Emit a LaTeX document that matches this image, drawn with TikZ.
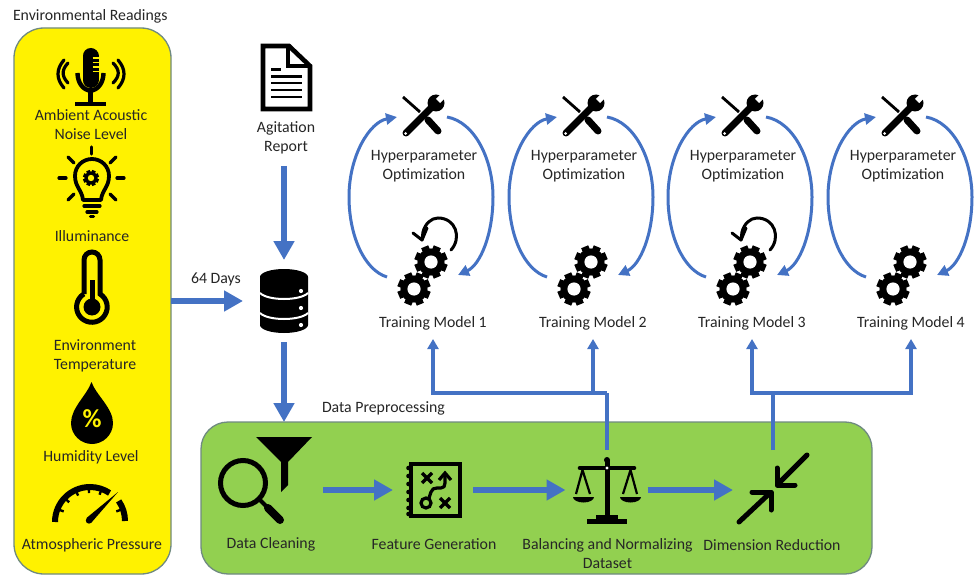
\documentclass[tikz,border=0pt]{standalone}
\usepackage{fontspec}
\setmainfont{Carlito}
\usetikzlibrary{arrows.meta}
\definecolor{flowblue}{HTML}{4472C4}
\definecolor{boxedge}{HTML}{6F8A80}
\definecolor{prepgreen}{HTML}{92D050}
\definecolor{inktext}{HTML}{262626}
\tikzset{
  lbl/.style={inner sep=0pt,outer sep=0pt,align=center,text=inktext,font=\fontsize{15.8}{19}\selectfont},
  iconbox/.style={inner sep=0pt,outer sep=0pt,minimum width=#1,minimum height=80pt},
  panel/.style={draw=boxedge,line width=1.3pt,rounded corners=#1,inner sep=0pt,outer sep=0pt},
  flow/.style={draw=flowblue,line width=6.4pt,-{Triangle[length=19pt,width=20pt]}},
  thinflow/.style={draw=flowblue,line width=3.2pt,-{Triangle[length=10pt,width=11pt]}},
  thinline/.style={draw=flowblue,line width=3.2pt},
  loopflow/.style={draw=flowblue,line width=3pt,-{Triangle[length=11pt,width=11pt]}},
  ink/.style={draw=black,line width=#1},
  ink/.default=3pt,
  rnd/.style={line cap=round}
}
\newcommand{\GearAt}[4]{%
  \foreach \a in {0,45,...,315}{\draw[line width=#3*0.46pt,black] (#1,#2) ++(\a+22.5:#3*0.6) -- ++(\a+22.5:#3*0.4);}
  \fill[black] (#1,#2) circle[radius=#3*0.82];
  \fill[#4] (#1,#2) circle[radius=#3*0.4];
}
\newcommand{\ToolIcon}{%
  \draw[ink=2.8pt] (403,97) -- (420,112);
  \draw[ink=7pt,rnd] (428,120) -- (438,131);
  \draw[ink=7pt,rnd] (406,133) -- (431,108);
  \fill[black] (436,103) circle[radius=8.5];
  \draw[white,line width=6pt] (438,101) -- (448,91);
  \fill[white] (405.5,133.5) circle[radius=1.5];
}
\newcommand{\SpinIcon}{%
  \draw[ink=3pt,rnd] (451,250) .. controls (462,238) and (456,218) .. (438,218) .. controls (431,218) and (425,224) .. (423,232) -- (422,240);
  \draw[ink=3pt,rnd,line join=round] (413,233) -- (422,240) -- (427,228);
}
\begin{document}
\begin{tikzpicture}[x=1pt,y=-1pt]
\useasboundingbox (0,0) rectangle (975,575);
\fill[white] (0,0) rectangle (975,575);

% panels
\node[panel=30pt,fill=yellow,minimum width=157pt,minimum height=546pt] (env) at (92.5,301) {};
\node[panel=27pt,fill=prepgreen,minimum width=671pt,minimum height=152pt] (prep) at (536.5,498) {};

% icon placeholders
\node[iconbox=82pt,minimum height=82pt] (db) at (284,301) {};
\node[iconbox=130pt] (clean) at (258,490) {};
\node[iconbox=80pt] (feat) at (433,490) {};
\node[iconbox=82pt] (scales) at (606.5,490) {};
\node[iconbox=80pt] (dimr) at (773,490) {};

% labels
\node[lbl,anchor=west] (envt) at (13,16) {Environmental Readings};
\node[lbl] (noise) at (91,125) {Ambient Acoustic\\Noise Level};
\node[lbl] (illum) at (92,236) {Illuminance};
\node[lbl] (temp) at (95,356) {Environment\\Temperature};
\node[lbl] (humid) at (91,457) {Humidity Level};
\node[lbl] (press) at (92,545) {Atmospheric Pressure};
\node[lbl] (days) at (216,279) {64 Days};
\node[lbl] (agit) at (286,138) {Agitation\\Report};
\node[lbl,anchor=west] (preptxt) at (322,408) {Data Preprocessing};
\node[lbl] (cleant) at (271,544) {Data Cleaning};
\node[lbl] (featt) at (434,544) {Feature Generation};
\node[lbl] (balt) at (607.5,554) {Balancing and Normalizing\\Dataset};
\node[lbl] (dimt) at (772,545) {Dimension Reduction};

% microphone
\draw[ink=16pt,rnd] (90.5,56) -- (90.5,80);
\foreach \yy in {58,62.5,67,71.5}{\draw[yellow,line width=1.4pt] (92.5,\yy) -- (99,\yy);}
\draw[ink=4.4pt] (77.5,73) arc[start angle=180,end angle=0,x radius=13,y radius=17.5];
\draw[ink=4.4pt] (90.5,90) -- (90.5,103);
\draw[ink=4.4pt] (75,104) -- (106,104);
\draw[ink=3.2pt,rnd] (68,63) .. controls (61.5,70) and (61.5,76) .. (68,83);
\draw[ink=3.2pt,rnd] (64,60) .. controls (56,69) and (56,79) .. (64,88);
\draw[ink=3.2pt,rnd] (113,63) .. controls (120,70) and (120,76) .. (113,83);
\draw[ink=3.2pt,rnd] (118,60) .. controls (126,69) and (126,79) .. (118,88);

% bulb
\draw[ink=3.8pt,line join=round] (83,200) .. controls (82,190) and (75,187) .. (75,176) .. controls (75,166) and (83,159) .. (92,159) .. controls (101,159) and (109,166) .. (109,176) .. controls (109,187) and (102,190) .. (101,200) -- cycle;
\GearAt{91}{178}{8}{yellow}
\draw[ink=3.2pt,rnd] (84,206) -- (100,206);
\draw[ink=3.2pt,rnd] (87,212) -- (97,212);
\draw[ink=3.2pt,rnd] (90.5,216.5) -- (93.5,216.5);
\draw[ink=3.2pt,rnd] (91.5,147) -- (91.5,154);
\draw[ink=3.2pt,rnd] (110,163) -- (116,157);
\draw[ink=3.2pt,rnd] (117,178) -- (124,178);
\draw[ink=3.2pt,rnd] (110,194) -- (116,200);
\draw[ink=3.2pt,rnd] (68,200) -- (74,194);
\draw[ink=3.2pt,rnd] (59,178) -- (66,178);
\draw[ink=3.2pt,rnd] (68,157) -- (74,163);

% thermometer
\draw[ink=5pt] (84,294) -- (84,260) arc (180:360:8) -- (100,294) arc (-58:238:15.3);
\fill[black] (92,307) circle[radius=8.5];
\draw[ink=5pt] (92,280) -- (92,300);

% drop
\fill[black] (91.5,382) .. controls (87,395) and (71,408) .. (71,423) .. controls (71,435) and (81,444) .. (92,444) .. controls (103,444) and (113,435) .. (113,423) .. controls (113,408) and (96,395) .. (91.5,382) -- cycle;
\node[inner sep=0pt,text=yellow,font=\fontsize{26}{26}\bfseries\selectfont] (pct) at (92,419) {\%};

% gauge
\draw[ink=6pt] (55,522) arc (180:304:35);
\draw[ink=6pt] (90,521) ++(325:35) arc (325:360:35);
\foreach \a in {200,222,245,268,290,340}{\draw[ink=2.4pt] (90,521) ++(\a:33) -- ++(\a:-5);}
\fill[black] (118,492) -- (91.5,522.5) -- (86.5,518) -- cycle;
\fill[black] (89,520.5) circle[radius=3.2];

% document
\draw[ink=4.6pt,miter limit=6] (263,46) -- (289,46) -- (310,66) -- (310,109) -- (263,109) -- cycle;
\draw[ink=4.6pt] (288,46) -- (288,66) -- (310,66);
\draw[ink=2.8pt] (271,69.5) -- (281,69.5);
\foreach \yy in {76.5,83,90,97}{\draw[ink=2.8pt] (271,\yy) -- (302,\yy);}

% database
\fill[black] (260,277) arc[start angle=180,end angle=360,x radius=24,y radius=8] -- (308,325) arc[start angle=0,end angle=180,x radius=24,y radius=8] -- cycle;
\draw[white,line width=2pt] (260,293) .. controls (268,301) and (300,301) .. (308,293);
\draw[white,line width=2pt] (260,313) .. controls (268,321) and (300,321) .. (308,313);
\foreach \yy in {291,308,325}{\fill[white] (301,\yy) circle[radius=2.1];}

% funnel and magnifier
\fill[black] (256,437) -- (312,437) -- (288,462) -- (288,485) -- (281,492) -- (281,462) -- cycle;
\draw[ink=5pt] (243,483) circle[radius=22.5];
\draw[ink=4pt] (259,499) -- (267,507);
\draw[ink=8pt,rnd] (268,508) -- (280,520);

% feature generation
\draw[ink=4pt] (411,464) rectangle (459.5,516);
\foreach \yy in {468,476,484,492,500,508,514}{\fill[black] (408.5,\yy) circle[radius=2.3];}
\draw[ink=3.2pt] (422,473) -- (432,483);
\draw[ink=3.2pt] (432,473) -- (422,483);
\draw[ink=3.2pt] (440,498) -- (450,508);
\draw[ink=3.2pt] (450,498) -- (440,508);
\draw[ink=3.2pt] (426,503) circle[radius=5];
\draw[ink=3.2pt,line join=round] (429,498) -- (431,492) .. controls (432,489) and (434,488) .. (437,488) -- (441,488) .. controls (444,488) and (445,486) .. (445,483) -- (445,473);
\draw[ink=3.2pt,line join=miter] (439,480) -- (445,473) -- (451,480);

% scales
\draw[ink=5pt] (607,460) -- (607,516);
\fill[black] (607,460) circle[radius=3];
\draw[ink=4.6pt,rnd] (580,468) -- (634,468);
\fill[white] (607,468) circle[radius=1.6];
\fill[black] (596,515) rectangle (618,519);
\fill[black] (587,519) rectangle (627,523.5);
\draw[ink=2.2pt] (576,494) -- (582.5,470) -- (590,494);
\draw[ink=2.2pt] (623,494) -- (630.5,470) -- (637,494);
\fill[black] (573,497) arc[start angle=180,end angle=0,x radius=10.5,y radius=5.5] -- cycle;
\fill[black] (620,497) arc[start angle=180,end angle=0,x radius=10.5,y radius=5.5] -- cycle;

% dimension reduction
\draw[ink=5pt,rnd] (807,455) -- (778,484);
\draw[ink=5pt,rnd,line join=round] (777,468) -- (777,485) -- (795,485);
\draw[ink=5pt,rnd] (739,522) -- (770,493);
\draw[ink=5pt,rnd,line join=round] (752,492) -- (771,492) -- (771,510);

% hyperparameter modules
\foreach \i/\dx in {1/0,2/160,3/319,4/479}{
  \begin{scope}[xshift=\dx pt]
    \ToolIcon
    \GearAt{431}{262}{16.5}{white}
    \GearAt{414}{289}{16.5}{white}
    \node[iconbox=44pt,minimum height=44pt] (tool\i) at (423,117) {};
    \node[iconbox=50pt,minimum height=60pt] (gears\i) at (423,275) {};
    \node[lbl] (hyp\i) at (424,166) {Hyperparameter\\Optimization};
    \coordinate (ls\i) at (387,277);
    \coordinate (le\i) at (397,117);
    \coordinate (rs\i) at (447,117);
    \coordinate (re\i) at (458,275);
    \draw[loopflow] (ls\i) .. controls (364,270) and (349,235) .. (349,197) .. controls (349,155) and (370,122) .. (le\i);
    \draw[loopflow] (rs\i) .. controls (475,122) and (493,160) .. (493,197) .. controls (493,235) and (480,265) .. (re\i);
  \end{scope}
}
\begin{scope}\SpinIcon\end{scope}
\begin{scope}[xshift=319pt]\SpinIcon\end{scope}

\node[lbl,minimum height=32pt] (t1) at (433,323) {Training Model 1};
\node[lbl,minimum height=32pt] (t2) at (593,323) {Training Model 2};
\node[lbl,minimum height=32pt] (t3) at (752,323) {Training Model 3};
\node[lbl,minimum height=32pt] (t4) at (911,323) {Training Model 4};

% connectors
\coordinate (rbot) at (284,166);
\draw[flow] (env.east) -- (db.west);
\draw[flow] (rbot) -- (db.north);
\draw[flow] (db.south) -- (db.south |- prep.north);
\draw[flow] (clean.east) -- (feat.west);
\draw[flow] (feat.east) -- (scales.west);
\draw[flow] (scales.east) -- (dimr.west);

\coordinate (j1) at (607,393);
\coordinate (j2) at (773,393);
\draw[thinline] (607,450) -- (j1);
\draw[thinline] (dimr.north) -- (j2);
\draw[thinflow] (j1) -| (t1.south);
\draw[thinflow] (t2.south |- j1) -- (t2.south);
\draw[thinflow] (j2) -| (t3.south);
\draw[thinflow] (j2) -| (t4.south);
\end{tikzpicture}
\end{document}
